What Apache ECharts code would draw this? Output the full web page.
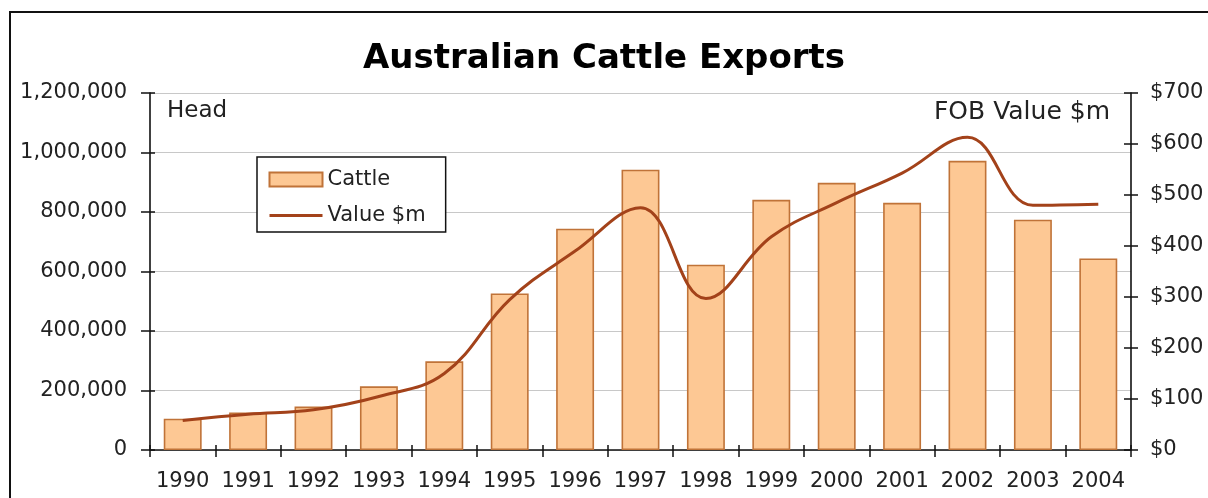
<!DOCTYPE html>
<html>
<head>
<meta charset="utf-8">
<title>Australian Cattle Exports</title>
<script src="https://cdn.jsdelivr.net/npm/echarts@6/dist/echarts.min.js"></script>
<style>
  html, body { margin: 0; padding: 0; background: #fff; }
  #chart { width: 1208px; height: 498px; }
</style>
</head>
<body>
<div id="chart"></div>
<script>
// Export years (categories)
const years = ['1990', '1991', '1992', '1993', '1994', '1995', '1996', '1997',
               '1998', '1999', '2000', '2001', '2002', '2003', '2004'];
// Live cattle exported, head
const cattleHead = [105000, 126000, 146000, 214000, 298000, 526000, 744000, 942000,
                    623000, 841000, 898000, 831000, 972000, 774000, 644000];
// FOB value, $ million
const fobValue = [58, 70, 79, 105, 150, 295, 390, 475, 297, 418, 485, 543, 613, 480, 482];

// Axis ranges
const headMax = 1200000, headStep = 200000;
const valueMax = 700, valueStep = 100;

const FONT = 'DejaVu Sans';
const labelStyle = { fontFamily: FONT, fontSize: 21, color: '#222' };
const axisLine = { show: true, lineStyle: { color: '#111', width: 1.6 } };

const chart = echarts.init(document.getElementById('chart'), null, { renderer: 'canvas' });

chart.setOption({
  animation: false,
  backgroundColor: '#fff',
  title: {
    text: 'Australian Cattle Exports',
    left: 'center',
    top: 37,
    textStyle: { fontFamily: FONT, fontSize: 34, fontWeight: 'bold', color: '#000' }
  },
  legend: {
    orient: 'vertical',
    left: 257,
    top: 157,
    padding: [12, 20, 6, 11],
    itemGap: 15,
    itemWidth: 53,
    itemHeight: 14,
    borderColor: '#111',
    borderWidth: 1.5,
    backgroundColor: '#fff',
    textStyle: { fontFamily: FONT, fontSize: 21, color: '#222' },
    data: [
      { name: 'Cattle', icon: 'rect' },
      // line only, no marker on the legend swatch
      { name: 'Value $m', itemStyle: { opacity: 0 }, lineStyle: { width: 3 } }
    ]
  },
  grid: { left: 150, right: 77, top: 93, bottom: 48 },
  xAxis: [
    {
      type: 'category',
      data: years,
      axisLine: axisLine,
      axisTick: { show: true, length: 7, lineStyle: { color: '#111', width: 1.5 } },
      axisLabel: Object.assign({ margin: 21, interval: 0 }, labelStyle),
      splitLine: { show: false }
    },
    {
      // inner half of the crossing tick marks
      type: 'category',
      position: 'bottom',
      data: years,
      axisLine: { show: false },
      axisTick: { show: true, inside: true, length: 5, lineStyle: { color: '#111', width: 1.5 } },
      axisLabel: { show: false },
      splitLine: { show: false }
    }
  ],
  yAxis: [
    {
      type: 'value',
      min: 0, max: headMax, interval: headStep,
      position: 'left',
      axisLine: axisLine,
      axisTick: { show: true, length: 9, lineStyle: { color: '#111', width: 1.5 } },
      axisLabel: Object.assign({
        margin: 23,
        formatter: v => v.toString().replace(/\B(?=(\d{3})+(?!\d))/g, ',')
      }, labelStyle),
      splitLine: { show: true, lineStyle: { color: '#c8c8c8', width: 1.2 } }
    },
    {
      type: 'value',
      min: 0, max: valueMax, interval: valueStep,
      position: 'right',
      axisLine: axisLine,
      axisTick: { show: true, length: 7, lineStyle: { color: '#111', width: 1.5 } },
      axisLabel: Object.assign({ margin: 19, formatter: v => '$' + v }, labelStyle),
      splitLine: { show: false }
    },
    {
      type: 'value',
      min: 0, max: headMax, interval: headStep,
      position: 'left',
      axisLine: { show: false },
      axisTick: { show: true, inside: true, length: 5, lineStyle: { color: '#111', width: 1.5 } },
      axisLabel: { show: false },
      splitLine: { show: false }
    },
    {
      type: 'value',
      min: 0, max: valueMax, interval: valueStep,
      position: 'right',
      axisLine: { show: false },
      axisTick: { show: true, inside: true, length: 7, lineStyle: { color: '#111', width: 1.5 } },
      axisLabel: { show: false },
      splitLine: { show: false }
    }
  ],
  graphic: [
    {
      type: 'rect',
      shape: { x: 10, y: 12, width: 1260, height: 600 },
      style: { fill: 'none', stroke: '#111', lineWidth: 2 },
      silent: true,
      z: 100
    },
    {
      type: 'text',
      left: 167,
      top: 100,
      style: { text: 'Head', fontFamily: FONT, fontSize: 23, fill: '#222' }
    },
    {
      type: 'text',
      right: 98,
      top: 100,
      style: { text: 'FOB Value $m', fontFamily: FONT, fontSize: 25, fill: '#222' }
    }
  ],
  series: [
    {
      name: 'Cattle',
      type: 'bar',
      xAxisIndex: 0,
      yAxisIndex: 0,
      data: cattleHead,
      barWidth: '58%',
      itemStyle: { color: '#fdc894', borderColor: '#c07338', borderWidth: 1.6 },
      z: 2
    },
    {
      name: 'Value $m',
      type: 'line',
      xAxisIndex: 0,
      yAxisIndex: 1,
      data: fobValue,
      smooth: 0.4,
      symbol: 'none',
      lineStyle: { color: '#a3421a', width: 3 },
      itemStyle: { color: '#a3421a' },
      z: 3
    }
  ]
});
</script>
</body>
</html>
